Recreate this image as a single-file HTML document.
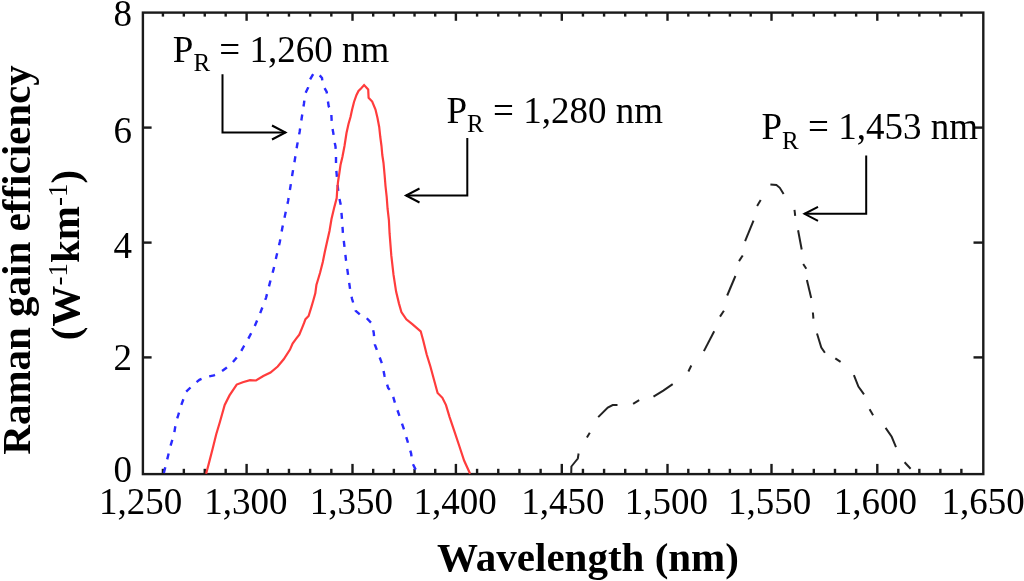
<!DOCTYPE html>
<html><head><meta charset="utf-8"><style>
html,body{margin:0;padding:0;background:#fff;}
svg{display:block;filter:blur(0.4px);}
text{font-family:"Liberation Serif",serif;fill:#000;}
</style></head><body>
<svg width="1024" height="581" viewBox="0 0 1024 581">
<rect x="0" y="0" width="1024" height="581" fill="#fff"/>
<g stroke="#1a1a1a" stroke-width="2.4" fill="none">
<rect x="142.9" y="12.6" width="840.40" height="461.50"/>
<line x1="162.92" y1="474.1" x2="162.92" y2="468.8"/><line x1="162.92" y1="12.6" x2="162.92" y2="16.6"/><line x1="183.84" y1="474.1" x2="183.84" y2="468.8"/><line x1="183.84" y1="12.6" x2="183.84" y2="16.6"/><line x1="204.76" y1="474.1" x2="204.76" y2="468.8"/><line x1="204.76" y1="12.6" x2="204.76" y2="16.6"/><line x1="225.68" y1="474.1" x2="225.68" y2="468.8"/><line x1="225.68" y1="12.6" x2="225.68" y2="16.6"/><line x1="246.60" y1="474.1" x2="246.60" y2="463.90000000000003"/><line x1="246.60" y1="12.6" x2="246.60" y2="20.799999999999997"/><line x1="267.78" y1="474.1" x2="267.78" y2="468.8"/><line x1="267.78" y1="12.6" x2="267.78" y2="16.6"/><line x1="288.96" y1="474.1" x2="288.96" y2="468.8"/><line x1="288.96" y1="12.6" x2="288.96" y2="16.6"/><line x1="310.14" y1="474.1" x2="310.14" y2="468.8"/><line x1="310.14" y1="12.6" x2="310.14" y2="16.6"/><line x1="331.32" y1="474.1" x2="331.32" y2="468.8"/><line x1="331.32" y1="12.6" x2="331.32" y2="16.6"/><line x1="352.50" y1="474.1" x2="352.50" y2="463.90000000000003"/><line x1="352.50" y1="12.6" x2="352.50" y2="20.799999999999997"/><line x1="373.18" y1="474.1" x2="373.18" y2="468.8"/><line x1="373.18" y1="12.6" x2="373.18" y2="16.6"/><line x1="393.86" y1="474.1" x2="393.86" y2="468.8"/><line x1="393.86" y1="12.6" x2="393.86" y2="16.6"/><line x1="414.54" y1="474.1" x2="414.54" y2="468.8"/><line x1="414.54" y1="12.6" x2="414.54" y2="16.6"/><line x1="435.22" y1="474.1" x2="435.22" y2="468.8"/><line x1="435.22" y1="12.6" x2="435.22" y2="16.6"/><line x1="455.90" y1="474.1" x2="455.90" y2="463.90000000000003"/><line x1="455.90" y1="12.6" x2="455.90" y2="20.799999999999997"/><line x1="477.08" y1="474.1" x2="477.08" y2="468.8"/><line x1="477.08" y1="12.6" x2="477.08" y2="16.6"/><line x1="498.26" y1="474.1" x2="498.26" y2="468.8"/><line x1="498.26" y1="12.6" x2="498.26" y2="16.6"/><line x1="519.44" y1="474.1" x2="519.44" y2="468.8"/><line x1="519.44" y1="12.6" x2="519.44" y2="16.6"/><line x1="540.62" y1="474.1" x2="540.62" y2="468.8"/><line x1="540.62" y1="12.6" x2="540.62" y2="16.6"/><line x1="561.80" y1="474.1" x2="561.80" y2="463.90000000000003"/><line x1="561.80" y1="12.6" x2="561.80" y2="20.799999999999997"/><line x1="582.94" y1="474.1" x2="582.94" y2="468.8"/><line x1="582.94" y1="12.6" x2="582.94" y2="16.6"/><line x1="604.08" y1="474.1" x2="604.08" y2="468.8"/><line x1="604.08" y1="12.6" x2="604.08" y2="16.6"/><line x1="625.22" y1="474.1" x2="625.22" y2="468.8"/><line x1="625.22" y1="12.6" x2="625.22" y2="16.6"/><line x1="646.36" y1="474.1" x2="646.36" y2="468.8"/><line x1="646.36" y1="12.6" x2="646.36" y2="16.6"/><line x1="667.50" y1="474.1" x2="667.50" y2="463.90000000000003"/><line x1="667.50" y1="12.6" x2="667.50" y2="20.799999999999997"/><line x1="688.30" y1="474.1" x2="688.30" y2="468.8"/><line x1="688.30" y1="12.6" x2="688.30" y2="16.6"/><line x1="709.10" y1="474.1" x2="709.10" y2="468.8"/><line x1="709.10" y1="12.6" x2="709.10" y2="16.6"/><line x1="729.90" y1="474.1" x2="729.90" y2="468.8"/><line x1="729.90" y1="12.6" x2="729.90" y2="16.6"/><line x1="750.70" y1="474.1" x2="750.70" y2="468.8"/><line x1="750.70" y1="12.6" x2="750.70" y2="16.6"/><line x1="771.50" y1="474.1" x2="771.50" y2="463.90000000000003"/><line x1="771.50" y1="12.6" x2="771.50" y2="20.799999999999997"/><line x1="792.66" y1="474.1" x2="792.66" y2="468.8"/><line x1="792.66" y1="12.6" x2="792.66" y2="16.6"/><line x1="813.82" y1="474.1" x2="813.82" y2="468.8"/><line x1="813.82" y1="12.6" x2="813.82" y2="16.6"/><line x1="834.98" y1="474.1" x2="834.98" y2="468.8"/><line x1="834.98" y1="12.6" x2="834.98" y2="16.6"/><line x1="856.14" y1="474.1" x2="856.14" y2="468.8"/><line x1="856.14" y1="12.6" x2="856.14" y2="16.6"/><line x1="877.30" y1="474.1" x2="877.30" y2="463.90000000000003"/><line x1="877.30" y1="12.6" x2="877.30" y2="20.799999999999997"/><line x1="898.32" y1="474.1" x2="898.32" y2="468.8"/><line x1="898.32" y1="12.6" x2="898.32" y2="16.6"/><line x1="919.34" y1="474.1" x2="919.34" y2="468.8"/><line x1="919.34" y1="12.6" x2="919.34" y2="16.6"/><line x1="940.36" y1="474.1" x2="940.36" y2="468.8"/><line x1="940.36" y1="12.6" x2="940.36" y2="16.6"/><line x1="961.38" y1="474.1" x2="961.38" y2="468.8"/><line x1="961.38" y1="12.6" x2="961.38" y2="16.6"/><line x1="142.9" y1="127.60" x2="151.6" y2="127.60"/><line x1="983.3" y1="127.60" x2="973.5" y2="127.60"/><line x1="142.9" y1="242.60" x2="151.6" y2="242.60"/><line x1="983.3" y1="242.60" x2="973.5" y2="242.60"/><line x1="142.9" y1="357.40" x2="151.6" y2="357.40"/><line x1="983.3" y1="357.40" x2="973.5" y2="357.40"/>
</g>
<polyline points="163.7,473.7 168.1,455.7 170.5,446.0 174.1,434.0 176.0,422.0 177.7,417.0 181.3,405.0 186.1,391.8 192.2,385.8 199.4,379.8 205.4,377.3 213.9,375.3 219.9,372.5 226.2,368.0 232.2,363.0 239.2,354.5 244.0,346.0 247.6,340.0 254.1,327.7 260.1,313.3 266.1,297.6 269.8,283.1 273.4,269.9 276.5,256.0 279.8,242.0 282.3,228.0 285.5,213.0 288.1,201.0 290.3,187.5 292.4,174.0 294.8,160.0 297.0,146.0 299.6,132.0 301.7,118.0 303.9,104.0 305.3,93.4 308.2,87.4 310.0,79.6 313.4,73.8 317.5,72.8 322.0,78.0 322.7,84.7 326.7,91.9 327.5,98.5 328.7,106.3 331.2,111.2 331.6,119.6 332.0,125.6 333.4,133.6 334.1,139.6 335.5,146.5 336.0,153.4 336.0,167.0 337.0,178.0 338.0,188.6 338.6,194.7 340.8,205.0 342.0,219.0 342.9,233.0 344.5,247.0 346.0,260.2 348.4,277.1 350.1,289.2 352.0,298.8 355.7,310.8 361.3,315.7 366.5,318.0 371.3,322.9 373.7,332.5 374.9,344.8 378.6,354.5 382.2,364.1 384.6,376.1 388.2,388.2 391.8,391.8 394.9,402.7 399.0,414.7 403.9,429.2 407.5,441.2 411.1,453.3 412.3,462.9 417.1,472.5" fill="none" stroke="#2a2aff" stroke-width="2.4" stroke-dasharray="6 8.09" stroke-dashoffset="-0.67"/>
<polyline points="206.1,473.7 209.0,462.9 212.7,448.4 216.3,434.0 219.9,422.0 224.7,405.0 229.5,395.4 236.7,384.6 242.8,382.2 250.0,380.2 256.0,380.5 263.3,376.0 270.5,372.5 277.7,366.5 283.7,359.3 290.0,349.6 292.6,343.5 296.2,338.7 299.3,334.6 301.9,328.4 304.0,323.2 305.5,319.1 308.6,316.0 311.2,307.7 313.3,300.5 315.3,293.3 316.4,285.0 317.6,281.0 320.0,273.0 322.8,262.0 324.8,252.0 326.9,242.5 329.5,231.0 331.5,219.0 334.1,208.0 336.7,198.0 337.2,190.0 338.0,182.0 339.5,172.0 340.5,165.0 342.4,157.0 344.5,146.0 346.5,133.0 348.5,124.0 350.5,117.0 352.0,110.0 354.0,102.0 356.5,95.0 358.5,91.0 361.0,88.5 364.1,85.1 368.2,89.5 368.6,97.7 372.2,101.5 375.5,109.5 377.5,118.0 379.2,127.0 380.3,137.0 381.5,146.0 382.3,155.0 383.5,163.0 384.6,175.0 385.5,186.0 386.7,197.0 387.6,209.0 388.9,220.0 389.6,233.7 391.3,255.4 393.5,274.7 396.1,291.6 399.0,303.6 401.4,312.0 406.3,319.3 412.3,324.1 420.7,331.3 423.1,340.0 426.7,354.5 430.4,366.5 434.0,379.8 437.6,393.0 442.4,397.8 446.0,405.1 449.6,417.1 454.5,431.6 459.3,446.0 464.1,460.5 470.1,473.7" fill="none" stroke="#ff3c3c" stroke-width="2.2"/>
<g fill="none" stroke="#222" stroke-width="2" stroke-linecap="butt">
<polyline points="571.2,474.0 571.4,466.5 575.0,462.0 577.8,458.5 578.6,453.5"/><polyline points="586.9,437.6 589.8,432.8"/><polyline points="598.2,417.1 607.8,407.5 612.7,405.1 617.5,405.1"/><polyline points="633.1,403.9 639.2,400.2"/><polyline points="653.5,396.7 663.3,390.6 672.7,384.1"/><polyline points="688.4,371.5 691.3,365.5"/><polyline points="703.9,351.1 714.2,331.3"/><polyline points="720.0,316.6 723.9,310.8"/><polyline points="727.2,295.5 735.4,276.0"/><polyline points="739.0,261.1 742.7,255.5"/><polyline points="745.1,241.1 753.5,220.6"/><polyline points="757.1,206.1 760.7,200.1"/><polyline points="770.4,184.5 776.4,185.0 779.8,187.8 783.6,194.1"/><polyline points="794.5,209.8 795.2,215.8"/><polyline points="798.1,230.2 801.7,249.5"/><polyline points="803.2,264.0 806.3,268.8"/><polyline points="806.9,280.0 811.2,298.1"/><polyline points="812.9,312.5 813.4,318.6"/><polyline points="817.0,333.5 821.3,347.5 824.9,352.8"/><polyline points="835.3,358.3 840.6,361.9"/><polyline points="853.9,375.2 858.4,386.5 864.0,394.3"/><polyline points="869.6,409.3 873.1,415.3"/><polyline points="885.6,427.9 891.7,436.8 896.0,447.2"/><polyline points="904.6,462.3 910.6,468.7"/>
</g>
<g font-size="37">
<text x="140.7" y="514" text-anchor="middle">1,250</text><text x="245.9" y="514" text-anchor="middle">1,300</text><text x="351.4" y="514" text-anchor="middle">1,350</text><text x="455.0" y="514" text-anchor="middle">1,400</text><text x="562.8" y="514" text-anchor="middle">1,450</text><text x="666.4" y="514" text-anchor="middle">1,500</text><text x="769.6" y="514" text-anchor="middle">1,550</text><text x="875.3" y="514" text-anchor="middle">1,600</text><text x="983.1" y="514" text-anchor="middle">1,650</text>
<text x="132" y="481.6" text-anchor="end">0</text><text x="132" y="369.9" text-anchor="end">2</text><text x="132" y="257.6" text-anchor="end">4</text><text x="132" y="143.4" text-anchor="end">6</text><text x="132" y="26.4" text-anchor="end">8</text>
</g>
<text x="588" y="570.5" font-size="41" font-weight="bold" text-anchor="middle">Wavelength (nm)</text>
<g transform="translate(29.5,260) rotate(-90)">
<text x="0" y="0" font-size="41" font-weight="bold" text-anchor="middle">Raman gain efficiency</text>
</g>
<g transform="translate(78.5,255) rotate(-90)">
<text x="0" y="0" font-size="41" font-weight="bold" text-anchor="middle">(W<tspan font-weight="normal" font-size="27" dy="-11.5">-1</tspan><tspan dy="11.5">km</tspan><tspan font-weight="normal" font-size="27" dy="-11.5">-1</tspan><tspan dy="11.5">)</tspan></text>
</g>
<g font-size="37">
<text x="172.8" y="61.8">P<tspan font-size="25" dy="9.5">R</tspan><tspan dy="-9.5"> = 1,260 nm</tspan></text>
<text x="446.5" y="122.5">P<tspan font-size="25" dy="9.5">R</tspan><tspan dy="-9.5"> = 1,280 nm</tspan></text>
<text x="761.5" y="139.4">P<tspan font-size="25" dy="9.5">R</tspan><tspan dy="-9.5"> = 1,453 nm</tspan></text>
</g>
<g stroke="#000" stroke-width="2" fill="none">
<polyline points="222.5,74.2 222.5,132.5 285.5,132.5"/>
<polyline points="272,125.5 285.5,132.5 272,139.5"/>
<polyline points="467.3,138 467.3,195.5 406,195.5"/>
<polyline points="419.5,188.5 406,195.5 419.5,202.5"/>
<polyline points="866.2,155.4 866.2,213.8 804.5,213.8"/>
<polyline points="818,206.8 804.5,213.8 818,220.8"/>
</g>
</svg>
</body></html>
